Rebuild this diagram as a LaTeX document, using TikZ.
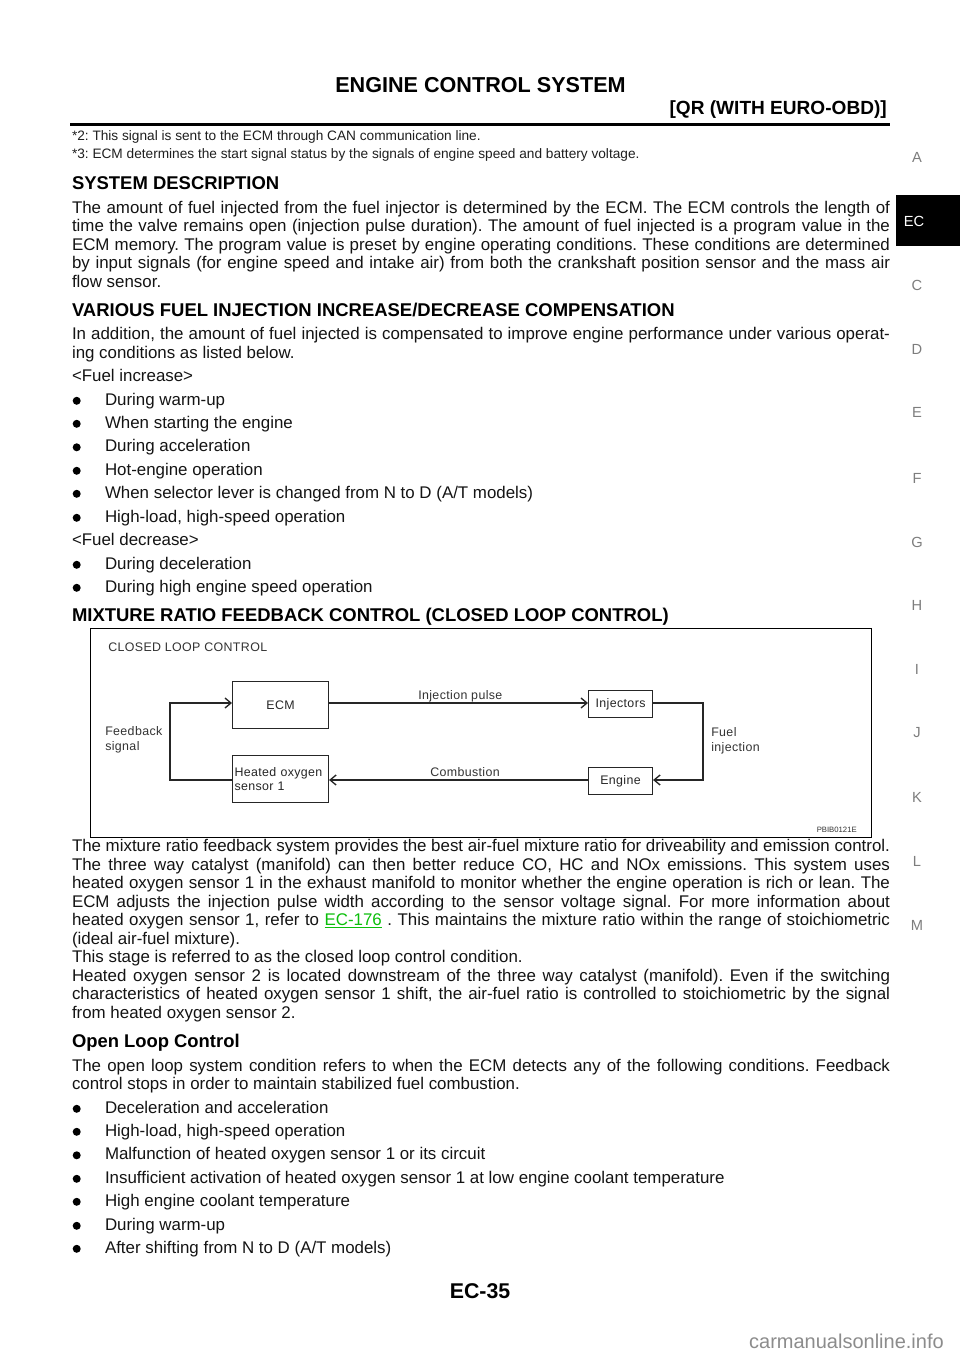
\documentclass[tikz,border=0pt]{standalone}
\usepackage{fontspec}
\setmainfont{Liberation Sans}
\usetikzlibrary{arrows.meta}
\definecolor{linkgreen}{RGB}{10,190,10}
\definecolor{sidegray}{RGB}{125,125,125}
\newcounter{ln}
\newcommand\bodyf{\fontsize{12.67}{14}\selectfont\frenchspacing}
\newcommand\headf{\fontsize{13.85}{16}\selectfont\bfseries}
\newcommand\noteF{\fontsize{10.25}{12}\selectfont\frenchspacing}
\newcommand\dgf{\fontsize{9.3}{11}\selectfont\addfontfeature{LetterSpace=3}}
\tikzset{
  line/.style={anchor=base west,inner sep=0pt,outer sep=0pt},
  bodytxt/.style={line,font=\bodyf,text=black!92},
  headtxt/.style={line,font=\headf},
  notetxt/.style={line,font=\noteF,text=black!88},
  bulletdot/.style={circle,fill=black,inner sep=0pt,minimum size=6pt},
  sideltr/.style={inner sep=0pt,font=\fontsize{11}{13}\selectfont,text=sidegray},
  blk/.style={draw=black!85,line width=0.8pt,inner sep=0pt,font=\dgf,text=black!85},
  dglabel/.style={anchor=base west,inner sep=0pt,font=\dgf,text=black!80},
  conn/.style={draw=black!85,line width=0.8pt},
  arr/.style={conn,-{Straight Barb[length=4.5pt,width=7.5pt,line width=1pt]}},
}
\newcommand\ltx[2]{\stepcounter{ln}\node[bodytxt] (l\theln) at (72,#1) {#2};}
\newcommand\ljs[2]{\stepcounter{ln}\node[bodytxt] (l\theln) at (72,#1) {\makebox[613.5pt][s]{#2}};}
\newcommand\lbu[2]{\stepcounter{ln}\node[bulletdot] (d\theln) at (76.7,{#1-4.2}) {};\node[bodytxt] (l\theln) at (105,#1) {#2};}
\newcommand\lhead[2]{\stepcounter{ln}\node[headtxt] (l\theln) at (72,#1) {#2};}
\begin{document}
\begin{tikzpicture}[x=0.75pt,y=-0.75pt]
\useasboundingbox[fill=white] (0,0) rectangle (960,1358);
% header
\node[anchor=base,inner sep=0pt,font=\fontsize{16.2}{18}\selectfont\bfseries] (title) at (480.5,92.5) {ENGINE CONTROL SYSTEM};
\node[anchor=base east,inner sep=0pt,font=\fontsize{14.3}{17}\selectfont\bfseries] (sub) at (887,115) {[QR (WITH EURO-OBD)]};
\coordinate (ruleL) at (70,124.5);
\coordinate (ruleR) at (890,124.5);
\draw[line width=2.2pt,black] (ruleL) -- (ruleR);
\node[notetxt] (n2) at (72,141) {*2: This signal is sent to the ECM through CAN communication line.};
\node[notetxt] (n3) at (72,159) {*3: ECM determines the start signal status by the signals of engine speed and battery voltage.};
% side tab
\fill[black] (896,195) rectangle (960,246);
\node[sideltr,text=white] (ec) at (914,221) {EC};
\foreach \ch/\yy in {A/157,C/285,D/349,E/412,F/478,G/542,H/605,I/669,J/733,K/797,L/861,M/925}
  \node[sideltr] (side\ch) at (917,\yy) {\ch};
% section 1
\lhead{189.5}{SYSTEM DESCRIPTION}
\ljs{213.5}{The amount of fuel injected from the fuel injector is determined by the ECM. The ECM controls the length of}
\ljs{232}{time the valve remains open (injection pulse duration). The amount of fuel injected is a program value in the}
\ljs{250.5}{ECM memory. The program value is preset by engine operating conditions. These conditions are determined}
\ljs{269}{by input signals (for engine speed and intake air) from both the crankshaft position sensor and the mass air}
\ltx{287.5}{flow sensor.}
% section 2
\lhead{316.5}{VARIOUS FUEL INJECTION INCREASE/DECREASE COMPENSATION}
\ljs{340}{In addition, the amount of fuel injected is compensated to improve engine performance under various operat-}
\ltx{358.5}{ing conditions as listed below.}
\ltx{381.5}{<Fuel increase>}
\lbu{405}{During warm-up}
\lbu{428}{When starting the engine}
\lbu{451.5}{During acceleration}
\lbu{475}{Hot-engine operation}
\lbu{498}{When selector lever is changed from N to D (A/T models)}
\lbu{522}{High-load, high-speed operation}
\ltx{545}{<Fuel decrease>}
\lbu{569}{During deceleration}
\lbu{592}{During high engine speed operation}
\lhead{621}{MIXTURE RATIO FEEDBACK CONTROL (CLOSED LOOP CONTROL)}
% diagram frame
\node[draw=black,line width=1.1pt,anchor=north west,minimum width=585.75pt,minimum height=156.5pt,inner sep=0pt] (frame) at (90,628) {};
\node[dglabel] (dgtitle) at (108,651) {CLOSED LOOP CONTROL};
\node[blk,anchor=north west,minimum width=72pt,minimum height=35.25pt] (ecm) at (232,681) {ECM};
\node[blk,anchor=north west,minimum width=72pt,minimum height=35.25pt,align=left,text width=69pt] (hos) at (232,755) {Heated oxygen\\sensor 1};
\node[blk,anchor=north west,minimum width=48pt,minimum height=20.25pt] (inj) at (588,690) {Injectors};
\node[blk,anchor=north west,minimum width=48pt,minimum height=20.25pt] (eng) at (588,767) {Engine};
\coordinate (fbtop) at (170,703);
\coordinate (fbbot) at (170,780);
\coordinate (fuelt) at (703,703);
\coordinate (fuelb) at (703,780);
\draw[arr] (ecm.east |- fbtop) -- (inj.west |- fbtop);
\draw[arr] (eng.west |- fbbot) -- (hos.east |- fbbot);
\draw[arr] (hos.west |- fbbot) -- (fbbot) -- (fbtop) -- (ecm.west |- fbtop);
\draw[arr] (inj.east |- fuelt) -- (fuelt) -- (fuelb) -- (eng.east |- fuelb);
\node[dglabel] (lbinj) at (418,699) {Injection pulse};
\node[dglabel] (lbcomb) at (430,776) {Combustion};
\node[dglabel] (lbfb1) at (105,735) {Feedback};
\node[dglabel] (lbfb2) at (105,750.5) {signal};
\node[dglabel] (lbfu1) at (711,736) {Fuel};
\node[dglabel] (lbfu2) at (711,751.5) {injection};
\node[anchor=base east,inner sep=0pt,font=\fontsize{5.8}{7}\selectfont,text=black!80] (code) at (857,832) {PBIB0121E};
% paragraph
\ljs{851.5}{The mixture ratio feedback system provides the best air-fuel mixture ratio for driveability and emission control.}
\ljs{870}{The three way catalyst (manifold) can then better reduce CO, HC and NOx emissions. This system uses}
\ljs{888.5}{heated oxygen sensor 1 in the exhaust manifold to monitor whether the engine operation is rich or lean. The}
\ljs{907}{ECM adjusts the injection pulse width according to the sensor voltage signal. For more information about}
\ljs{925.5}{heated oxygen sensor 1, refer to {\color{linkgreen}\underline{EC-176}} . This maintains the mixture ratio within the range of stoichiometric}
\ltx{944}{(ideal air-fuel mixture).}
\ltx{962.5}{This stage is referred to as the closed loop control condition.}
\ljs{981}{Heated oxygen sensor 2 is located downstream of the three way catalyst (manifold). Even if the switching}
\ljs{999.5}{characteristics of heated oxygen sensor 1 shift, the air-fuel ratio is controlled to stoichiometric by the signal}
\ltx{1018}{from heated oxygen sensor 2.}
\node[line,font=\fontsize{13.8}{16}\selectfont\bfseries] (openh) at (72,1047) {Open Loop Control};
\ljs{1071}{The open loop system condition refers to when the ECM detects any of the following conditions. Feedback}
\ltx{1089.5}{control stops in order to maintain stabilized fuel combustion.}
\lbu{1113}{Deceleration and acceleration}
\lbu{1136}{High-load, high-speed operation}
\lbu{1159.5}{Malfunction of heated oxygen sensor 1 or its circuit}
\lbu{1183}{Insufficient activation of heated oxygen sensor 1 at low engine coolant temperature}
\lbu{1206}{High engine coolant temperature}
\lbu{1230}{During warm-up}
\lbu{1253}{After shifting from N to D (A/T models)}
% footer
\node[anchor=base,inner sep=0pt,font=\fontsize{16}{18}\selectfont\bfseries] (page) at (480,1298) {EC-35};
\node[anchor=base east,inner sep=0pt,font=\fontsize{15}{18}\selectfont,text=black!45] (wm) at (944,1348) {carmanualsonline.info};
\end{tikzpicture}
\end{document}
